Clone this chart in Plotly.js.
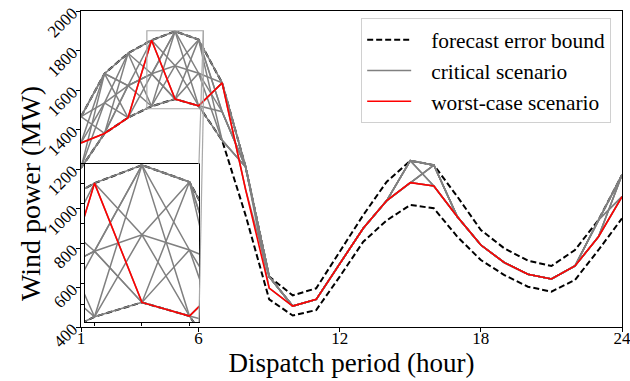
<!DOCTYPE html>
<html><head><meta charset="utf-8">
<script src="https://cdn.plot.ly/plotly-3.0.1.min.js"></script>
<style>html,body{margin:0;padding:0;background:#fff;}
#chart text{font-family:'Liberation Serif',serif !important;}</style>
</head><body><div id="chart" style="width:630px;height:381px;"></div>
<script>
// ---- data ----
const hours = [1,2,3,4,5,6,7,8,9,10,11,12,13,14,15,16,17,18,19,20,21,22,23,24];
const upperBound = [1465,1683,1786,1852,1897,1855,1636,1210,655,560,596,785,967,1136,1242,1220,1060,891,798,736,709,790,942,1170];
const forecast   = [1332,1535,1622,1682,1723,1685,1490,1095,597,506,540,722,900,1040,1131,1114,958,815,726,667,643,709,857,1060];
const lowerBound = [1205,1380,1460,1518,1554,1520,1345,965,540,458,486,655,832,940,1018,1001,857,739,663,604,579,638,790,950];
const worstCase  = [1332,1380,1460,1852,1554,1520,1636,1095,597,506,540,722,900,1040,1131,1114,958,815,726,667,643,709,857,1060];
// critical scenarios: level at each hour (U = upper bound, M = forecast, L = lower bound)
const criticalPatterns = [
  ["UUUUUUU","UU","MMMMM","UU","MMMMMM","UU"],
  ["MMMMMMM","UU","MMMMM","UM","MMMMMM","UM"],
  ["UMLUMLU","UU","MMMMM","MU","MMMMMM","MU"],
  ["LUMLUML","UU","MMMMM","MM","MMMMMM","MM"],
  ["MLUMLUM","UM","MMMMM","UU","MMMMMM","UU"],
  ["ULMULMU","MU","MMMMM","UM","MMMMMM","MU"],
  ["MULMULM","UU","MMMMM","MU","MMMMMM","UM"],
  ["LMULMUL","UU","MMMMM","UU","MMMMMM","UU"],
  ["LLLLLLL","UU","MMMMM","MM","MMMMMM","MM"],
  ["UUMMLLU","UU","MMMMM","UU","MMMMMM","UU"],
  ["LLMMUUM","UU","MMMMM","MU","MMMMMM","MU"]
];
const xTicks = [1,6,12,18,24];
const yTicks = [400,600,800,1000,1200,1400,1600,1800,2000];
const mainXRange = [1,24], mainYRange = [400,2000];
const insetXRange = [3.8,6.2], insetYRange = [1505,1900];
const insetXDomain = [0.0074,0.218], insetYDomain = [0.0158,0.516];
const insetYTicks = [1550,1600,1650,1700,1750,1800,1850,1900];
const insetXTicks = [4,5,6];

const levelOf = {U: upperBound, M: forecast, L: lowerBound};
const scenarios = criticalPatterns.map(p => p.join('').split('').map((c,i) => levelOf[c][i]));

const FONT = 'Liberation Serif';
const PAD = '\u00a0\u00a0\u2009';
const traces = [];
function addSet(xa, ya, legend){
  traces.push({x:hours, y:upperBound, xaxis:xa, yaxis:ya, mode:'lines', name:PAD+'forecast error bound',
    legendgroup:'b', showlegend:legend, line:{color:'black', width:2, dash:'6px,3px'}});
  traces.push({x:hours, y:lowerBound, xaxis:xa, yaxis:ya, mode:'lines', name:PAD+'forecast error bound',
    legendgroup:'b', showlegend:false, line:{color:'black', width:2, dash:'6px,3px'}});
  scenarios.forEach((s,k) => traces.push({x:hours, y:s, xaxis:xa, yaxis:ya, mode:'lines', name:PAD+'critical scenario',
    legendgroup:'c', showlegend:legend && k===0, line:{color:'#808080', width:1.5}}));
  traces.push({x:hours, y:worstCase, xaxis:xa, yaxis:ya, mode:'lines', name:PAD+'worst-case scenario',
    legendgroup:'w', showlegend:legend, line:{color:'#ff0000', width:1.6}});
}
addSet('x','y',true);
addSet('x2','y2',false);

// paper coords of zoom-box corners
const px = v => (v - mainXRange[0])/(mainXRange[1]-mainXRange[0]);
const py = v => (v - mainYRange[0])/(mainYRange[1]-mainYRange[0]);

const layout = {
  width:630, height:381,
  margin:{l:81, r:8, t:11, b:54},
  paper_bgcolor:'white', plot_bgcolor:'white',
  font:{family:FONT, color:'black', size:17},
  showlegend:true,
  legend:{x:0.98, y:0.977, xanchor:'right', yanchor:'top', bgcolor:'white', itemwidth:44,
    bordercolor:'#d0d0d0', borderwidth:1, font:{family:FONT, size:21.4}, tracegroupgap:0},
  xaxis:{range:mainXRange, tickvals:xTicks, ticks:'outside', ticklen:4, tickcolor:'black',
    ticklabeloverflow:'allow', ticklabelstandoff:-8,
    showline:true, mirror:true, linecolor:'black', linewidth:1, showgrid:false, zeroline:false,
    tickfont:{family:FONT, size:17}, title:{text:'Dispatch period (hour)', font:{family:FONT, size:27}, standoff:3}},
  yaxis:{range:mainYRange, tickvals:yTicks, ticks:'outside', ticklen:4, tickcolor:'black', tickangle:-45,
    showline:true, mirror:true, linecolor:'black', linewidth:1, showgrid:false, zeroline:false,
    tickfont:{family:FONT, size:17}},
  xaxis2:{domain:insetXDomain, anchor:'y2', range:insetXRange, tickvals:insetXTicks, showticklabels:false,
    ticks:'outside', ticklen:3, tickcolor:'black', showline:true, mirror:true, linecolor:'black', linewidth:1,
    showgrid:false, zeroline:false},
  yaxis2:{domain:insetYDomain, anchor:'x2', range:insetYRange, tickvals:insetYTicks, showticklabels:false,
    ticks:'outside', ticklen:3, tickcolor:'black', showline:true, mirror:true, linecolor:'black', linewidth:1,
    showgrid:false, zeroline:false},
  annotations:[
    {text:'Wind power (MW)', xref:'paper', yref:'paper', x:-0.0943, y:0.424, textangle:-90,
      showarrow:false, xanchor:'center', yanchor:'middle', font:{family:FONT, size:28, color:'black'}}
  ],
  shapes:[
    {type:'rect', xref:'x2', yref:'y2', x0:insetXRange[0], x1:insetXRange[1], y0:insetYRange[0], y1:insetYRange[1],
      fillcolor:'white', line:{width:0}, layer:'below'},
    {type:'rect', xref:'x', yref:'y', x0:insetXRange[0], x1:insetXRange[1], y0:insetYRange[0], y1:insetYRange[1],
      line:{color:'#a8a8a8', width:1.2}, layer:'above'},
    {type:'line', xref:'paper', yref:'paper', x0:px(insetXRange[1]), y0:py(insetYRange[1]),
      x1:insetXDomain[1], y1:insetYDomain[1], line:{color:'#a8a8a8', width:1.2}, layer:'above'},
    {type:'line', xref:'paper', yref:'paper', x0:px(insetXRange[1]), y0:py(insetYRange[0]),
      x1:insetXDomain[1], y1:insetYDomain[0], line:{color:'#a8a8a8', width:1.2}, layer:'above'}
  ]
};
Plotly.newPlot('chart', traces, layout, {displayModeBar:false, staticPlot:true});
</script></body></html>
